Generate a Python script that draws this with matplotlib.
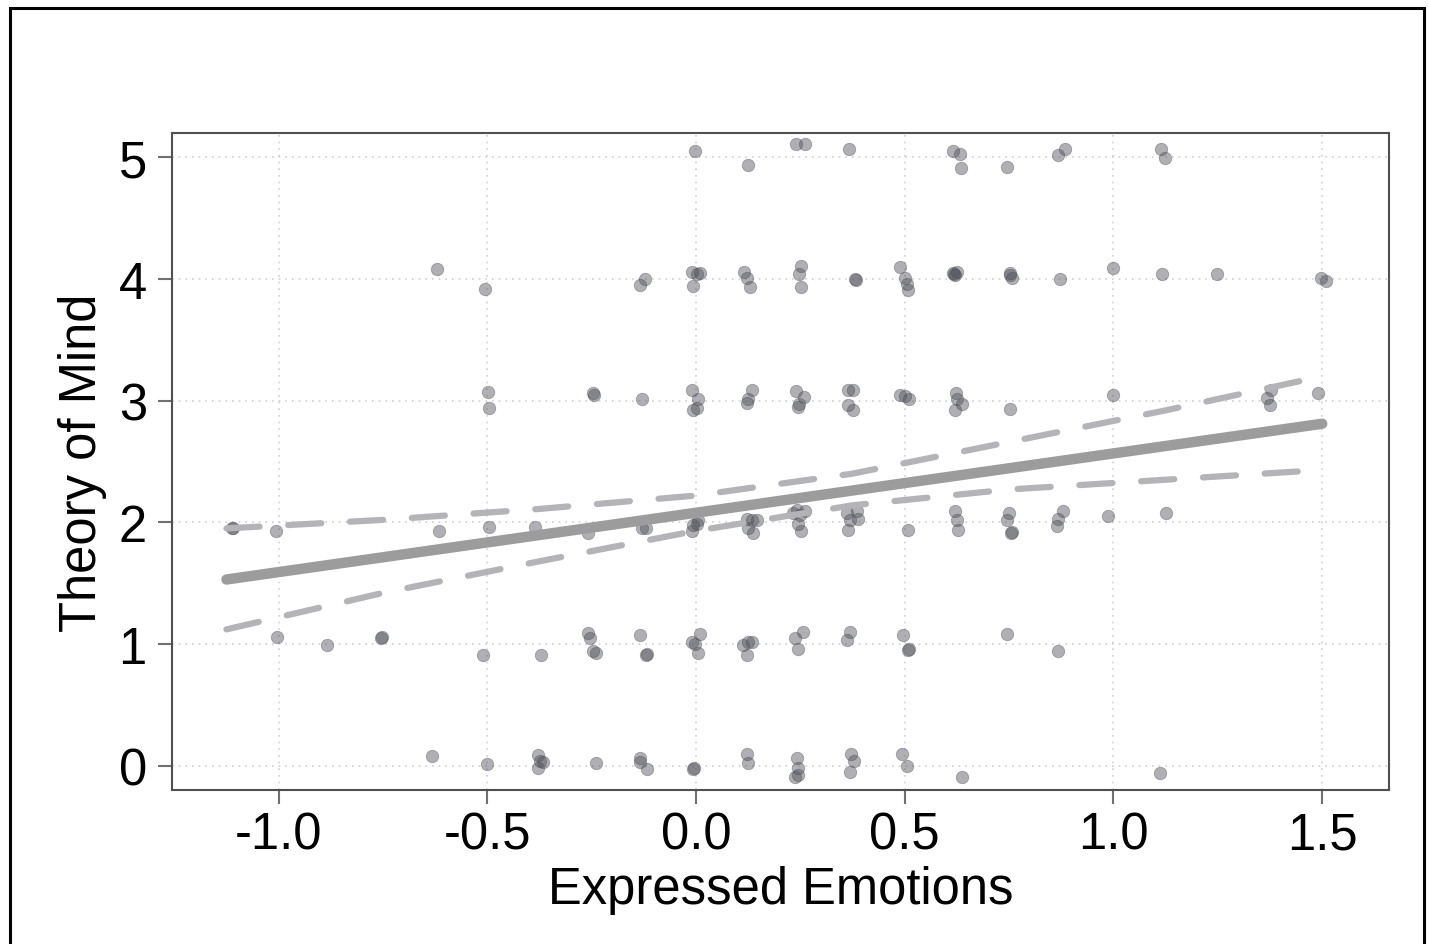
"""
Scatter of Theory of Mind against Expressed Emotions
with a fitted line and its confidence band
"""

import matplotlib
matplotlib.use('Agg')
import matplotlib.pyplot as plt
from matplotlib.patches import Rectangle

emotions = [
    # ToM ~ 5
    -0.002, 0.124, 0.239, 0.261, 0.366, 0.615, 0.632, 0.634, 0.746, 0.868,
    0.883, 1.115, 1.124,
    # ToM ~ 4
    -0.620, -0.505, -0.134, -0.122, -0.010, 0.010, -0.007, 0.002, 0.115, 0.122,
    0.129, 0.251, 0.246, 0.251, 0.380, 0.382, 0.488, 0.500, 0.505, 0.507,
    0.615, 0.624, 0.620, 0.618, 0.751, 0.756, 0.753, 0.873, 1.000, 1.117,
    1.249, 1.498, 1.510,
    # ToM ~ 3
    -0.498, -0.495, -0.246, -0.244, -0.129, -0.010, 0.005, -0.007, 0.002, 0.134,
    0.124, 0.122, 0.239, 0.258, 0.244, 0.246, 0.364, 0.376, 0.364, 0.376,
    0.488, 0.500, 0.510, 0.622, 0.620, 0.636, 0.624, 0.751, 0.998, 1.378,
    1.368, 1.376, 1.490,
    # ToM ~ 2
    -1.112, -1.110, -1.007, -0.615, -0.495, -0.385, -0.258, -0.129, -0.120, -0.010,
    0.002, 0.005, -0.007, 0.122, 0.134, 0.124, 0.136, 0.146, 0.242, 0.249,
    0.244, 0.251, 0.261, 0.232, 0.361, 0.368, 0.364, 0.385, 0.388, 0.507,
    0.620, 0.624, 0.627, 0.749, 0.744, 0.754, 0.756, 0.864, 0.866, 0.878,
    0.988, 1.127,
    # ToM ~ 1
    -1.005, -0.883, -0.754, -0.752, -0.510, -0.371, -0.258, -0.254, -0.246, -0.239,
    -0.134, -0.120, -0.118, -0.010, 0.010, 0.005, -0.002, 0.112, 0.124, 0.134,
    0.122, 0.237, 0.256, 0.244, 0.368, 0.361, 0.495, 0.507, 0.509, 0.746,
    0.868,
    # ToM ~ 0
    -0.632, -0.500, -0.378, -0.378, -0.366, -0.373, -0.239, -0.134, -0.117, -0.134,
    -0.007, -0.005, 0.122, 0.124, 0.242, 0.244, 0.237, 0.244, 0.371, 0.378,
    0.368, 0.493, 0.505, 0.636, 1.112,
]
theory_of_mind = [
    5.05, 4.94, 5.11, 5.11, 5.07, 5.05, 5.03, 4.91, 4.92, 5.02,
    5.07, 5.07, 4.99,
    4.08, 3.92, 3.95, 4.00, 4.06, 4.05, 3.94, 4.04, 4.06, 4.01,
    3.93, 4.11, 4.04, 3.93, 4.00, 3.99, 4.10, 4.01, 3.96, 3.91,
    4.05, 4.06, 4.03, 4.04, 4.05, 4.01, 4.03, 4.00, 4.09, 4.04,
    4.04, 4.01, 3.98,
    3.07, 2.94, 3.06, 3.05, 3.01, 3.09, 3.01, 2.92, 2.94, 3.09,
    3.01, 2.98, 3.08, 3.03, 2.95, 2.97, 3.09, 3.09, 2.96, 2.92,
    3.05, 3.04, 3.01, 3.06, 2.92, 2.97, 3.01, 2.93, 3.05, 3.09,
    3.02, 2.96, 3.06,
    1.95, 1.95, 1.93, 1.93, 1.96, 1.96, 1.91, 1.95, 1.95, 1.93,
    1.99, 2.02, 1.98, 2.03, 2.02, 1.95, 1.91, 2.02, 2.10, 2.06,
    1.99, 1.93, 2.09, 2.08, 2.08, 2.02, 1.94, 2.09, 2.03, 1.94,
    2.09, 2.02, 1.94, 2.08, 2.02, 1.91, 1.92, 1.97, 2.03, 2.09,
    2.05, 2.08,
    1.06, 0.99, 1.05, 1.06, 0.91, 0.91, 1.09, 1.05, 0.94, 0.93,
    1.07, 0.91, 0.92, 1.02, 1.08, 0.93, 1.00, 0.99, 1.02, 1.02,
    0.91, 1.05, 1.10, 0.96, 1.10, 1.03, 1.07, 0.95, 0.96, 1.08,
    0.94,
    0.08, 0.01, 0.09, -0.02, 0.03, 0.04, 0.02, 0.06, -0.03, 0.03,
    -0.03, -0.02, 0.10, 0.02, 0.06, -0.02, -0.09, -0.08, 0.10, 0.04,
    -0.05, 0.10, 0.00, -0.09, -0.06,
]

# Fitted line and confidence band
fit_x = [-1.125, 1.5]
fit_y = [1.53, 2.81]
band_x = [-1.125, -0.75, -0.375, 0.0, 0.375, 0.75, 1.125, 1.5]
band_upper = [1.95, 2.02, 2.11, 2.22, 2.40, 2.66, 2.92, 3.20]
band_lower = [1.12, 1.42, 1.68, 1.93, 2.14, 2.27, 2.35, 2.43]

x_ticks = [-1.0, -0.5, 0.0, 0.5, 1.0, 1.5]
y_ticks = [0, 1, 2, 3, 4, 5]


def make_plot():
    plt.rcParams['font.family'] = ['Liberation Sans', 'DejaVu Sans']

    fig = plt.figure(figsize=(14.29, 9.45), dpi=100)
    ax = fig.add_axes([0.1202, 0.1633, 0.8518, 0.6949])

    # hand-drawn looking outer frame (bottom edge runs off the picture)
    fig.patches.append(Rectangle((10 / 1429, -0.05), 1414 / 1429, 1.05 - 9 / 945,
                                 transform=fig.transFigure, fill=False,
                                 edgecolor='black', linewidth=2.2))

    ax.grid(True, color='#cfcfcf', linestyle=(0, (1, 3)), linewidth=1.2)
    ax.set_axisbelow(True)

    ax.scatter(emotions, theory_of_mind, s=80, color='#50505a', alpha=0.45,
               edgecolors='#50505a', linewidths=0.6, zorder=3)

    ax.plot(fit_x, fit_y, color='#9c9c9c', linewidth=7.5,
            solid_capstyle='round', zorder=4)
    for band in (band_upper, band_lower):
        ax.plot(band_x, band, color='#b4b4b8', linewidth=4.5,
                dashes=(5.3, 4.6), dash_capstyle='round', zorder=4)

    ax.set_xlim(-1.256, 1.660)
    ax.set_ylim(-0.197, 5.199)
    ax.set_xticks(x_ticks)
    ax.set_xticklabels(['%.1f' % t for t in x_ticks])
    ax.set_yticks(y_ticks)

    for side in ('left', 'bottom', 'top', 'right'):
        ax.spines[side].set_color('#505050')
        ax.spines[side].set_linewidth(1.5)

    ax.tick_params(axis='both', direction='out', length=10, width=1.5,
                   color='#707070', labelsize=36.5, pad=5)
    ax.tick_params(axis='y', pad=8)

    ax.set_xlabel('Expressed Emotions', fontsize=36.5, labelpad=4)
    ax.set_ylabel('Theory of Mind', fontsize=36.5, labelpad=8)

    return fig


if __name__ == "__main__":
    fig = make_plot()
    fig.savefig('out.png', dpi=100)
    print("Saved out.png")
